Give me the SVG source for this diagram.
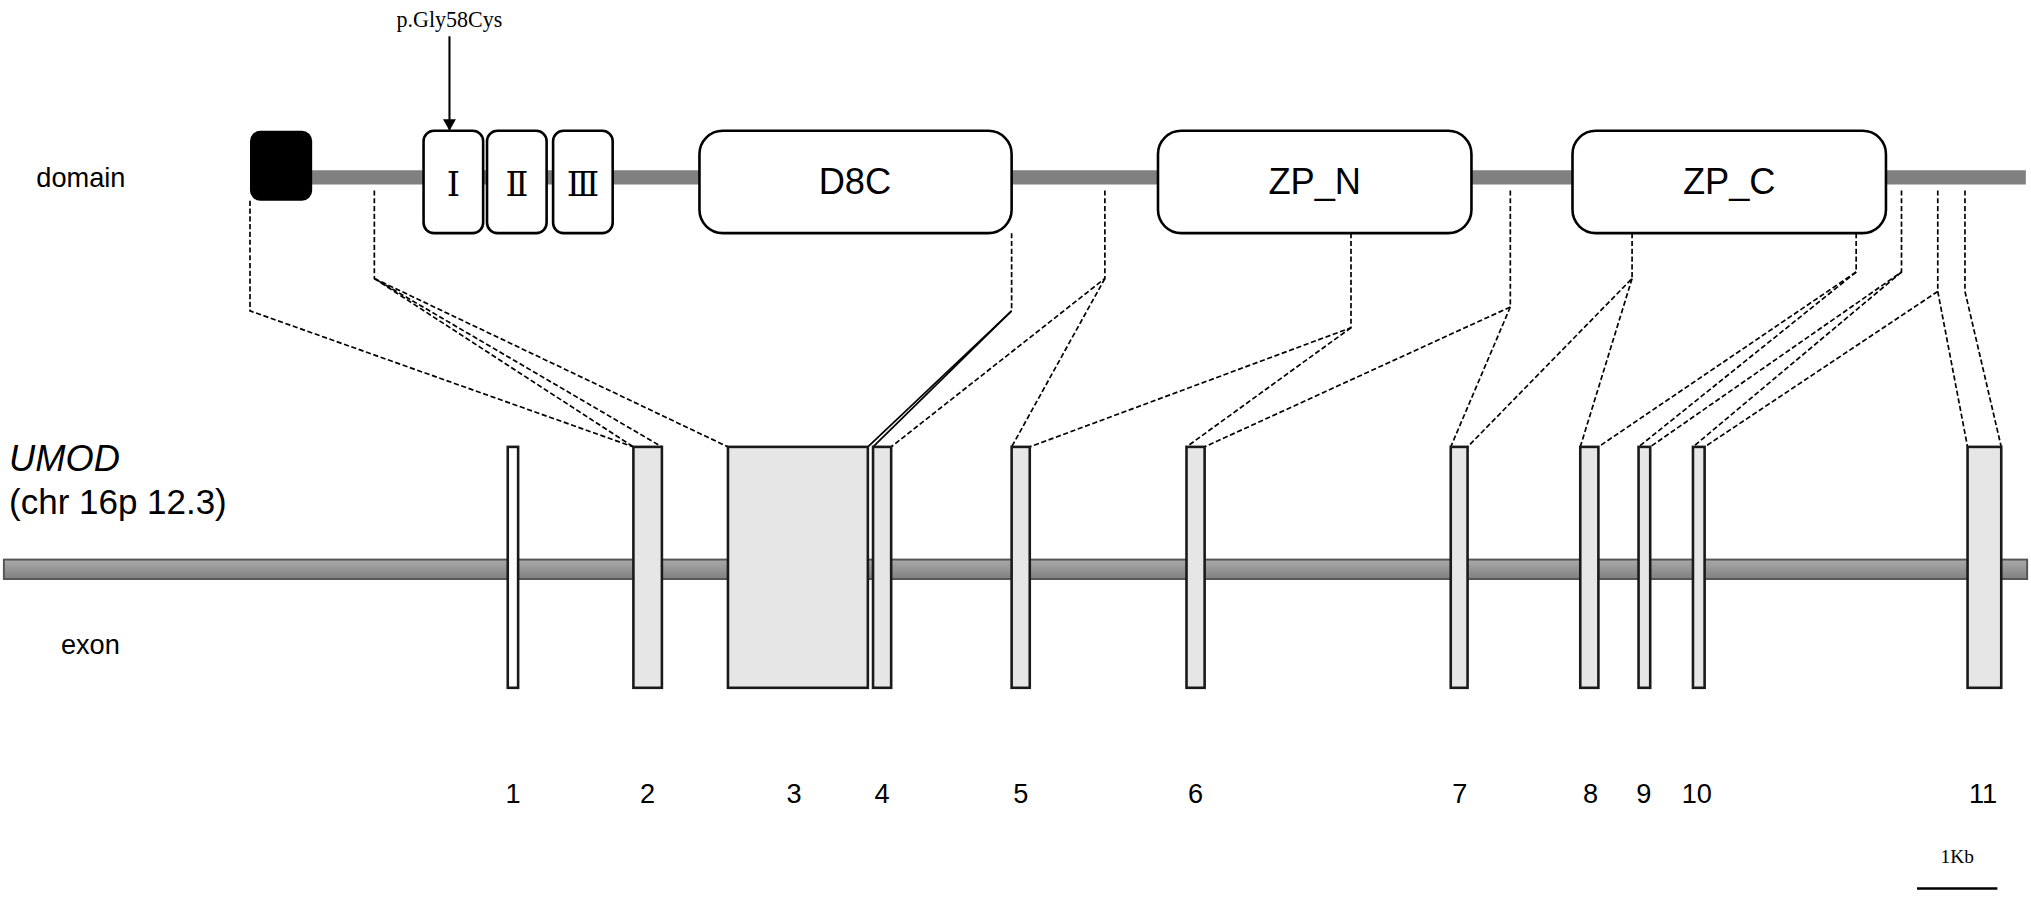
<svg xmlns="http://www.w3.org/2000/svg" width="2031" height="900" viewBox="0 0 2031 900">
<style>
.t{font-family:"Liberation Sans",Arial,sans-serif;fill:#000}
.s{font-family:"Liberation Serif","Times New Roman",serif;fill:#000}
.r{font-family:"DejaVu Serif","Liberation Serif",serif;fill:#000}
.dom{fill:#fff;stroke:#000;stroke-width:2}
.ex{fill:#e6e6e6;stroke:#1a1a1a;stroke-width:2}
.d{fill:none;stroke:#000;stroke-width:1.3;stroke-dasharray:4 2}
.bb{stroke:#808080;stroke-width:11}
</style>
<defs><marker id="ah" markerWidth="10" markerHeight="10" refX="8" refY="5" orient="auto" markerUnits="userSpaceOnUse"><path d="M0,0 L9,5 L0,10 z" fill="#000"/></marker>
<linearGradient id="gg" x1="0" y1="0" x2="0" y2="1"><stop offset="0" stop-color="#aaa"/><stop offset="1" stop-color="#808080"/></linearGradient></defs>
<rect width="2031" height="900" fill="#fff"/>
<g transform="scale(1.2953)">
<g id="backbone"><line class="bb" x1="240" y1="137" x2="1564" y2="137"/></g>
<g id="connectors">
<polyline class="d" points="193,155 193,240 489,345"/>
<polyline class="d" points="289,147 289,215 511,345"/>
<polyline class="d" points="289,215 562,345"/>
<polyline class="d" points="289,215 489,345"/>
<polyline class="d" points="781,180 781,240"/>
<line stroke="#000" stroke-width="1.3" x1="781" y1="240" x2="674" y2="345"/>
<line stroke="#000" stroke-width="1.3" x1="781" y1="240" x2="670" y2="345"/>
<polyline class="d" points="853,147 853,215 688,345"/>
<polyline class="d" points="853,215 781,345"/>
<polyline class="d" points="1043,180 1043,253 795,345"/>
<polyline class="d" points="1043,253 916,345"/>
<polyline class="d" points="1166,147 1166,237 930,345"/>
<polyline class="d" points="1166,237 1120,345"/>
<polyline class="d" points="1260,180 1260,215 1133,345"/>
<polyline class="d" points="1260,215 1220,345"/>
<polyline class="d" points="1433,180 1433,210 1234,345"/>
<polyline class="d" points="1433,210 1265,345"/>
<polyline class="d" points="1468,147 1468,210 1274,345"/>
<polyline class="d" points="1468,210 1307,345"/>
<polyline class="d" points="1496,147 1496,225 1316,345"/>
<polyline class="d" points="1496,225 1519,345"/>
<polyline class="d" points="1517,147 1517,225 1545,345"/>
<line stroke="#000" stroke-width="1.6" x1="347" y1="28" x2="347" y2="100" marker-end="url(#ah)"/>
</g>
<g id="sig"><rect x="193" y="101" width="48" height="54" rx="8" fill="#000"/></g>
<g id="domI"><rect class="dom" x="327" y="101" width="46" height="79" rx="8"/><text class="r" x="350" y="151" font-size="26" text-anchor="middle">Ⅰ</text></g>
<g id="domII"><rect class="dom" x="376" y="101" width="46" height="79" rx="8"/><text class="r" x="399" y="151" font-size="26" text-anchor="middle">Ⅱ</text></g>
<g id="domIII"><rect class="dom" x="427" y="101" width="46" height="79" rx="8"/><text class="r" x="450" y="151" font-size="26" text-anchor="middle">Ⅲ</text></g>
<g id="d8c"><rect class="dom" x="540" y="101" width="241" height="79" rx="18"/><text class="t" x="660" y="150" font-size="28" text-anchor="middle">D8C</text></g>
<g id="zpn"><rect class="dom" x="894" y="101" width="242" height="79" rx="18"/><text class="t" x="1015" y="150" font-size="28" text-anchor="middle">ZP_N</text></g>
<g id="zpc"><rect class="dom" x="1214" y="101" width="242" height="79" rx="18"/><text class="t" x="1335" y="150" font-size="28" text-anchor="middle">ZP_C</text></g>
<text class="s" x="347" y="21" font-size="17" text-anchor="middle">p.Gly58Cys</text>
<text class="t" x="28" y="144" font-size="21">domain</text>
<text class="t" x="7" y="364" font-size="28" font-style="italic">UMOD</text>
<text class="t" x="7" y="397" font-size="27">(chr 16p 12.3)</text>
<text class="t" x="47" y="505" font-size="21">exon</text>
<g id="gene"><rect x="3" y="432" width="1562" height="15" fill="url(#gg)" stroke="#555" stroke-width="1.5"/></g>
<g id="exons">
<rect x="392" y="345" width="8" height="186" fill="#fff" stroke="#1a1a1a" stroke-width="2"/>
<rect class="ex" x="489" y="345" width="22" height="186"/>
<rect class="ex" x="562" y="345" width="108" height="186"/>
<rect class="ex" x="674" y="345" width="14" height="186"/>
<rect class="ex" x="781" y="345" width="14" height="186"/>
<rect class="ex" x="916" y="345" width="14" height="186"/>
<rect class="ex" x="1120" y="345" width="13" height="186"/>
<rect class="ex" x="1220" y="345" width="14" height="186"/>
<rect class="ex" x="1265" y="345" width="9" height="186"/>
<rect class="ex" x="1307" y="345" width="9" height="186"/>
<rect class="ex" x="1519" y="345" width="26" height="186"/>
</g>
<g class="t" font-size="21" text-anchor="middle">
<text x="396" y="620">1</text><text x="500" y="620">2</text><text x="613" y="620">3</text><text x="681" y="620">4</text><text x="788" y="620">5</text><text x="923" y="620">6</text><text x="1127" y="620">7</text><text x="1228" y="620">8</text><text x="1269" y="620">9</text><text x="1310" y="620">10</text><text x="1531" y="620">11</text>
</g>
<text class="s" x="1511" y="666" font-size="15" text-anchor="middle">1Kb</text>
<line x1="1480" y1="686" x2="1542" y2="686" stroke="#000" stroke-width="2"/>
</g>
</svg>
